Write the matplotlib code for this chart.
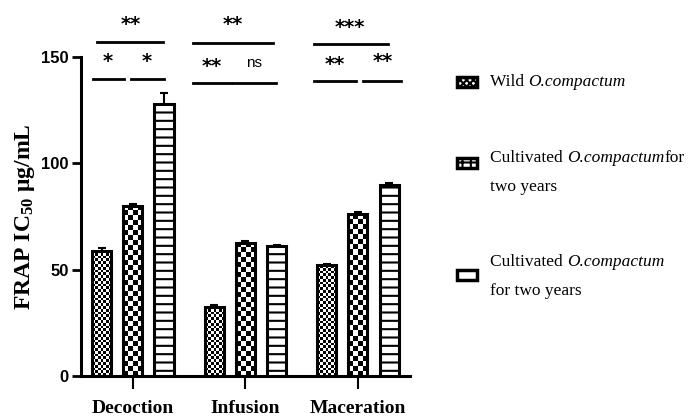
import numpy as np
import matplotlib.pyplot as plt
from matplotlib.patches import Rectangle

methods = ['Decoction', 'Infusion', 'Maceration']
wild = [59, 32.5, 52]
wild_err = [1.0, 0.8, 0.8]
cult = [80, 62.5, 76]
cult_err = [1.0, 1.2, 1.2]
cult2 = [128, 61, 90]
cult2_err = [5.0, 0.8, 0.6]

# legend text, split in (text, italic) pieces per line
legend_lines = [
    [[('Wild ', False), ('O.compactum', True)]],
    [[('Cultivated ', False), ('O.compactum', True), ('for', False)], [('two years', False)]],
    [[('Cultivated ', False), ('O.compactum', True)], [('for two years', False)]],
]

# significance brackets: (x0, x1, y) and text (x, y, label)
brackets = [(-0.356, -0.08, 139.6), (-0.018, 0.276, 139.6), (-0.32, 0.267, 157),
            (0.533, 0.871, 137.7), (0.889, 1.271, 137.7), (0.533, 1.244, 156.6),
            (1.609, 1.982, 138.5), (2.044, 2.382, 138.5), (1.609, 2.267, 156)]
stars = [(-0.222, 148.6, '*'), (0.124, 148.6, '*'), (-0.018, 166, '**'),
         (0.702, 146.7, '**'), (1.076, 147, 'ns'), (0.889, 166, '**'),
         (1.796, 147.6, '**'), (2.218, 149, '**'), (1.929, 165, '***')]

plt.rcParams['mathtext.fontset'] = 'custom'
plt.rcParams['mathtext.rm'] = 'Liberation Serif'
plt.rcParams['mathtext.bf'] = 'Liberation Serif:bold'
plt.rcParams['hatch.linewidth'] = 1.5

fig = plt.figure(figsize=(6.96, 4.18), dpi=100)
ax = fig.add_axes([0.116, 0.100, 0.473, 0.764])
ax.set_xlim(-0.462, 2.462)
ax.set_ylim(0, 150)

x = np.arange(len(methods))
off = 0.277
w = 0.17


def checker(rows, cols):
    return (np.add.outer(np.arange(rows), np.arange(cols)) % 2).astype(float)


def draw_checker_bars(xs, vals, errs, cols, cell_px):
    ax.errorbar(xs, vals, yerr=errs, fmt='none', ecolor='black', elinewidth=1.5,
                capsize=3, capthick=1.5, zorder=1)
    bars = ax.bar(xs, vals, w, color='white', edgecolor='none', zorder=2)
    for b in bars:
        x0, h = b.get_x(), b.get_height()
        hp = ax.transData.transform((0, h))[1] - ax.transData.transform((0, 0))[1]
        rows = max(1, int(round(hp / cell_px)))
        im = ax.imshow(checker(rows, cols), cmap='gray', extent=(x0, x0 + w, 0, h),
                       aspect='auto', interpolation='nearest', zorder=2.5, origin='lower')
        im.set_clip_path(b)
    ax.bar(xs, vals, w, fill=False, edgecolor='black', linewidth=2.2, zorder=3)


draw_checker_bars(x - off, wild, wild_err, 7, 2.8)
draw_checker_bars(x, cult, cult_err, 4, 5.0)

ax.errorbar(x + off, cult2, yerr=cult2_err, fmt='none', ecolor='black', elinewidth=1.5,
            capsize=3, capthick=1.5, zorder=1)
ax.bar(x + off, cult2, w, color='white', edgecolor='black', linewidth=2.2,
       hatch='--', zorder=3)

ax.set_xlim(-0.462, 2.462)
ax.set_ylim(0, 150)

for x0, x1, y in brackets:
    ax.plot([x0, x1], [y, y], color='black', lw=2, clip_on=False)
for xs_, ys_, s in stars:
    if s == 'ns':
        ax.text(xs_, ys_, s, ha='center', va='center', fontsize=11, clip_on=False,
                family='Liberation Sans')
    else:
        ax.text(xs_, ys_ - 1, s, ha='center', va='center', fontsize=14,
                fontweight='bold', clip_on=False)

ax.spines['top'].set_visible(False)
ax.spines['right'].set_visible(False)
ax.spines['left'].set_linewidth(2.2)
ax.spines['bottom'].set_linewidth(2.2)
ax.set_yticks([0, 50, 100, 150])
ax.tick_params(axis='y', length=6.5, width=2, labelsize=12, pad=2)
ax.tick_params(axis='x', length=9, width=1.5, labelsize=14, pad=8)
ax.set_xticks(x)
ax.set_xticklabels(methods, family='Liberation Serif', fontweight='bold')
for t in ax.get_yticklabels():
    t.set_family(['Liberation Sans Narrow', 'Liberation Sans'])
    t.set_fontweight('bold')
ax.set_ylabel(r'FRAP IC$\mathbf{_{50}}$ μg/mL', family='Liberation Serif',
              fontweight='bold', fontsize=17, labelpad=3)

# legend drawn by hand
hatches = ['xxxxx', '++', '']
ys = [0.804, 0.610, 0.342]
first_line = [0.804, 0.622, 0.373]
line_gap = 29 / 418
for h, y, fy, lines in zip(hatches, ys, first_line, legend_lines):
    fig.add_artist(Rectangle((0.656, y - 0.011), 0.030, 0.022, transform=fig.transFigure,
                             facecolor='white', edgecolor='black', lw=2.5, hatch=h))
    for i, pieces in enumerate(lines):
        prev = None
        for txt, it in pieces:
            style = 'italic' if it else 'normal'
            if prev is None:
                prev = fig.text(0.704, fy - i * line_gap, txt, va='center', ha='left',
                                family='Liberation Serif', fontsize=12.5, style=style)
            else:
                prev = fig.add_artist(plt.Annotation(
                    txt, xy=(1, 0), xycoords=prev, va='bottom', ha='left',
                    family='Liberation Serif', fontsize=12.5, style=style))

fig.savefig('out.png', dpi=100)
